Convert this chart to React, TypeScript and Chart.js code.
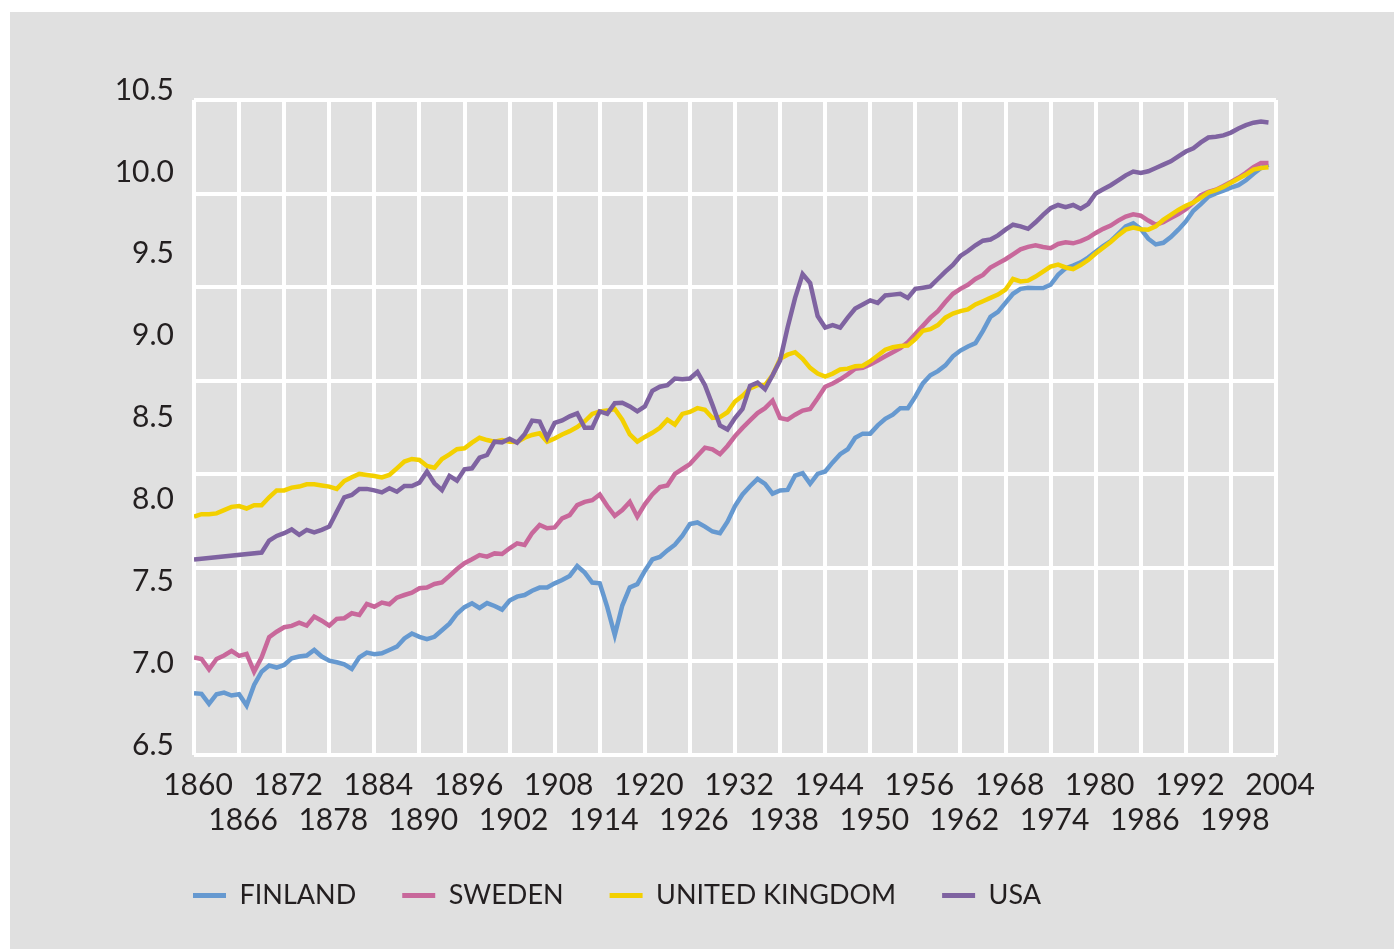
import { useEffect, useRef } from "react";
import { Chart, registerables } from "chart.js";

Chart.register(...registerables);

const START_YEAR = 1860;

const seriesNames = ["FINLAND", "SWEDEN", "UNITED KINGDOM", "USA"];

const finland = [
  6.827, 6.823, 6.762, 6.821, 6.831, 6.813, 6.821, 6.752, 6.877, 6.958,
  6.995, 6.983, 6.999, 7.039, 7.05, 7.056, 7.09, 7.05, 7.025, 7.015,
  7.003, 6.975, 7.045, 7.074, 7.064, 7.07, 7.09, 7.11, 7.16, 7.19,
  7.17, 7.155, 7.17, 7.21, 7.25, 7.31, 7.35, 7.374, 7.345, 7.375,
  7.357, 7.335, 7.39, 7.414, 7.424, 7.45, 7.469, 7.47, 7.495, 7.515,
  7.54, 7.6, 7.56, 7.5, 7.495, 7.35, 7.18, 7.36, 7.47, 7.49,
  7.57, 7.64, 7.655, 7.695, 7.73, 7.785, 7.855, 7.865, 7.84, 7.81,
  7.8, 7.87, 7.965, 8.035, 8.085, 8.13, 8.1, 8.04, 8.06, 8.063,
  8.15, 8.165, 8.1, 8.16, 8.175, 8.23, 8.28, 8.31, 8.38, 8.405,
  8.405, 8.455, 8.495, 8.52, 8.56, 8.56, 8.63, 8.71, 8.76, 8.785,
  8.82, 8.875, 8.91, 8.935, 8.955, 9.03, 9.115, 9.145, 9.2, 9.255,
  9.285, 9.292, 9.29, 9.29, 9.31, 9.37, 9.41, 9.426, 9.446, 9.475,
  9.51, 9.545, 9.575, 9.62, 9.665, 9.683, 9.65, 9.59, 9.555, 9.565,
  9.6, 9.645, 9.695, 9.76, 9.8, 9.845, 9.865, 9.882, 9.9, 9.915,
  9.945, 9.985, 10.02, 10.04,
];

const sweden = [
  7.045, 7.035, 6.972, 7.035, 7.056, 7.084, 7.054, 7.066, 6.958, 7.045,
  7.167, 7.201, 7.228, 7.236, 7.256, 7.238, 7.293, 7.268, 7.238, 7.279,
  7.283, 7.313, 7.303, 7.37, 7.353, 7.378, 7.368, 7.408, 7.424, 7.438,
  7.465, 7.469, 7.491, 7.5, 7.54, 7.582, 7.617, 7.641, 7.667, 7.657,
  7.677, 7.673, 7.708, 7.738, 7.728, 7.8, 7.85, 7.83, 7.835, 7.89,
  7.91, 7.97, 7.99, 8.0, 8.035, 7.965, 7.905, 7.94, 7.99, 7.9,
  7.975, 8.035, 8.08, 8.09, 8.16, 8.19, 8.22, 8.27, 8.32, 8.31,
  8.28, 8.33, 8.39, 8.44, 8.485, 8.53, 8.56, 8.605, 8.5, 8.49,
  8.52, 8.545, 8.555, 8.62, 8.69, 8.71, 8.735, 8.765, 8.8, 8.805,
  8.825, 8.85, 8.875, 8.9, 8.925, 8.96, 9.01, 9.06, 9.11, 9.15,
  9.205, 9.255, 9.285, 9.31, 9.345, 9.37, 9.415, 9.44, 9.465, 9.495,
  9.525, 9.54, 9.55, 9.54, 9.532, 9.558, 9.568, 9.562, 9.575, 9.595,
  9.625, 9.65, 9.67, 9.7, 9.725, 9.738, 9.73, 9.7, 9.675, 9.69,
  9.715, 9.74, 9.77, 9.81, 9.855, 9.875, 9.888, 9.91, 9.935, 9.96,
  9.99, 10.025, 10.05, 10.05,
];

const unitedKingdom = [
  7.9, 7.915, 7.915, 7.92, 7.94, 7.96, 7.965, 7.95, 7.97, 7.97,
  8.018, 8.06, 8.06, 8.077, 8.083, 8.097, 8.097, 8.09, 8.083, 8.069,
  8.117, 8.14, 8.16, 8.153, 8.147, 8.139, 8.154, 8.194, 8.235, 8.251,
  8.245, 8.208, 8.198, 8.251, 8.279, 8.31, 8.316, 8.35, 8.38, 8.366,
  8.356, 8.366, 8.356, 8.354, 8.38, 8.397, 8.407, 8.356, 8.375, 8.4,
  8.42, 8.445, 8.48, 8.525, 8.54, 8.545, 8.555, 8.49, 8.4, 8.356,
  8.385, 8.41, 8.44, 8.49, 8.46, 8.525, 8.537, 8.56, 8.55, 8.5,
  8.505, 8.535, 8.6, 8.635, 8.68, 8.7, 8.7, 8.76, 8.86, 8.885,
  8.9, 8.86, 8.805, 8.77, 8.752, 8.77, 8.795, 8.8, 8.815, 8.818,
  8.845, 8.88, 8.915, 8.93, 8.938, 8.94, 8.98, 9.03, 9.04, 9.065,
  9.11, 9.135, 9.15, 9.16, 9.19, 9.21, 9.23, 9.25, 9.28, 9.345,
  9.33, 9.335, 9.36, 9.39, 9.42, 9.432, 9.415, 9.405, 9.43, 9.46,
  9.5, 9.535, 9.57, 9.61, 9.645, 9.658, 9.648, 9.645, 9.665, 9.705,
  9.735, 9.765, 9.79, 9.81, 9.84, 9.87, 9.885, 9.905, 9.93, 9.955,
  9.98, 10.01, 10.02, 10.024,
];

const usa = [
  7.64, null, null, null, null, null, null, null, null, 7.682,
  7.755, 7.783, 7.8, 7.823, 7.79, 7.82, 7.805, 7.82, 7.84, 7.93,
  8.018, 8.032, 8.069, 8.069, 8.06, 8.048, 8.073, 8.052, 8.087, 8.087,
  8.107, 8.174, 8.103, 8.062, 8.148, 8.119, 8.188, 8.194, 8.259, 8.275,
  8.356, 8.352, 8.374, 8.35, 8.401, 8.484, 8.478, 8.38, 8.47, 8.485,
  8.51, 8.528, 8.44, 8.44, 8.54, 8.525, 8.59, 8.593, 8.57, 8.54,
  8.57, 8.665, 8.69, 8.7, 8.74, 8.735, 8.74, 8.78, 8.7, 8.58,
  8.455, 8.43, 8.5, 8.555, 8.695, 8.715, 8.675, 8.76, 8.85, 9.05,
  9.23, 9.375, 9.32, 9.12, 9.05, 9.065, 9.05, 9.11, 9.165, 9.19,
  9.215, 9.2, 9.245, 9.25, 9.255, 9.23, 9.285, 9.292, 9.3, 9.345,
  9.39, 9.43, 9.485, 9.515, 9.55, 9.578, 9.585, 9.61, 9.645, 9.675,
  9.665, 9.65, 9.69, 9.735, 9.775, 9.795, 9.782, 9.795, 9.772, 9.8,
  9.865, 9.89, 9.915, 9.945, 9.975, 9.998, 9.99, 10.0, 10.02, 10.04,
  10.06, 10.09, 10.12, 10.14, 10.175, 10.205, 10.21, 10.218, 10.235, 10.26,
  10.28, 10.295, 10.302, 10.297,
];

const years = finland.map((_, i) => START_YEAR + i);

const xAxisMin = 1860;
const xAxisMax = 2004;
const xTickStep = 6;
const yTickMin = 6.5;
const yTickMax = 10.5;
const yTickStep = 0.5;

const colors = ["#6699d0", "#c8689b", "#f3d000", "#7f63a1"];

export default function App() {
  const ref = useRef<HTMLCanvasElement>(null);

  useEffect(() => {
    const canvas = ref.current;
    if (!canvas) return;
    const FONT = "Lato, 'Open Sans', sans-serif";
    const TEXT = "#231f20";

    const legendShift = {
      id: "legendShift",
      afterLayout(chart: any) {
        const lg = chart.legend;
        if (!lg) return;
        const pad = lg.options.labels.padding;
        const dx = chart.chartArea.left - 1 - pad - lg.left;
        lg.left += dx;
        lg.right += dx;
      },
    };

    const all = [finland, sweden, unitedKingdom, usa];
    const datasets = all.map((arr, k) => ({
      label: seriesNames[k],
      data: arr.map((v, i) => ({ x: years[i], y: v })),
      borderColor: colors[k],
      backgroundColor: colors[k],
      borderWidth: 4.5,
      pointRadius: 0,
      tension: 0,
      spanGaps: true,
      yAxisID: "y",
      order: 4 - k,
    }));

    const chart = new Chart(canvas, {
      type: "line",
      data: { datasets },
      plugins: [legendShift],
      options: {
        animation: false,
        responsive: false,
        layout: { padding: { top: 88, right: 118, bottom: 30, left: 0 } },
        plugins: {
          tooltip: { enabled: false },
          legend: {
            position: "bottom",
            align: "start",
            labels: {
              font: { family: FONT, size: 27 },
              color: TEXT,
              boxWidth: 33,
              boxHeight: 5,
              padding: 46,
              sort: (a: any, b: any) => a.datasetIndex - b.datasetIndex,
              generateLabels: (chart: any) =>
                (Chart.defaults.plugins.legend.labels as any)
                  .generateLabels(chart)
                  .map((l: any) => ({ ...l, lineWidth: 0 })),
            },
          },
        },
        scales: {
          x: {
            type: "linear",
            min: xAxisMin,
            max: xAxisMax,
            border: { display: false },
            grid: { color: "#ffffff", lineWidth: 4, drawTicks: false },
            afterFit: (s: any) => {
              s.height = 81;
            },
            ticks: {
              stepSize: xTickStep,
              autoSkip: false,
              maxRotation: 0,
              minRotation: 0,
              padding: 13,
              labelOffset: 4,
              color: TEXT,
              font: { family: FONT, size: 30, lineHeight: "35px" },
              callback: (value: any, index: number) =>
                index % 2 === 0 ? [String(value), ""] : ["", String(value)],
            },
          },
          yl: {
            type: "linear",
            position: "left",
            min: yTickMin,
            max: yTickMax,
            border: { display: false },
            grid: { display: false, drawTicks: false },
            afterFit: (s: any) => {
              s.width = 184;
            },
            ticks: {
              stepSize: yTickStep,
              padding: 20,
              labelOffset: -10,
              color: TEXT,
              font: { family: FONT, size: 30 },
              callback: (v: any) => Number(v).toFixed(1),
            },
          },
          yg: {
            type: "linear",
            position: "right",
            min: 0,
            max: 7,
            border: { display: false },
            grid: { color: "#ffffff", lineWidth: 4, drawTicks: false },
            afterFit: (s: any) => {
              s.width = 0;
            },
            ticks: { display: false, stepSize: 1 },
          },
          y: {
            type: "linear",
            display: false,
            min: 6.4514,
            max: 10.4331,
          },
        },
      },
    } as any);

    return () => chart.destroy();
  }, []);

  return (
    <div
      style={{
        position: "absolute",
        left: 10,
        top: 12,
        width: 1384,
        height: 937,
        background: "#e0e0e0",
      }}
    >
      <canvas ref={ref} width={1384} height={937} style={{ display: "block" }} />
    </div>
  );
}
